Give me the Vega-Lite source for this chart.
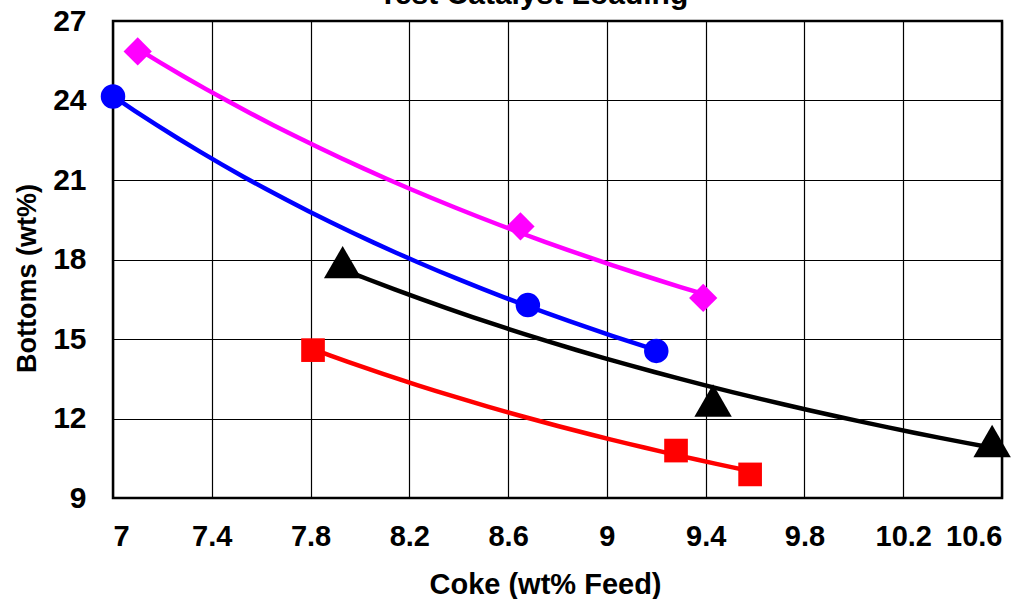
{
  "$schema": "https://vega.github.io/schema/vega-lite/v6.json",
  "width": 889,
  "height": 477,
  "autosize": {"type": "none"},
  "padding": {"left": 113, "top": 21, "right": 31, "bottom": 101},
  "background": "white",
  "title": {
    "text": "Test Catalyst Loading",
    "frame": "group",
    "anchor": "middle",
    "baseline": "alphabetic",
    "offset": -28,
    "dx": -24,
    "font": "Liberation Sans",
    "fontSize": 30,
    "fontWeight": "bold",
    "color": "#000000"
  },
  "config": {
    "view": {"stroke": "#000000", "strokeWidth": 2.5},
    "axis": {
      "labelFont": "Liberation Sans",
      "titleFont": "Liberation Sans",
      "labelFontWeight": "bold",
      "titleFontWeight": "bold",
      "labelColor": "#000000",
      "titleColor": "#000000",
      "domain": false,
      "ticks": false,
      "grid": true,
      "gridColor": "#000000",
      "gridWidth": 1.2,
      "gridOpacity": 1
    }
  },
  "data": {
    "values": [
      {"series": "A", "coke": 7.10, "bottoms": 25.85},
      {"series": "A", "coke": 8.65, "bottoms": 19.25},
      {"series": "A", "coke": 9.39, "bottoms": 16.55},
      {"series": "B", "coke": 7.00, "bottoms": 24.15},
      {"series": "B", "coke": 8.68, "bottoms": 16.28},
      {"series": "B", "coke": 9.20, "bottoms": 14.55},
      {"series": "C", "coke": 7.93, "bottoms": 17.9},
      {"series": "C", "coke": 9.43, "bottoms": 12.68},
      {"series": "C", "coke": 10.56, "bottoms": 11.15},
      {"series": "D", "coke": 7.81, "bottoms": 14.58},
      {"series": "D", "coke": 9.28, "bottoms": 10.79},
      {"series": "D", "coke": 9.58, "bottoms": 9.89}
    ]
  },
  "layer": [
    {
      "transform": [
        {"regression": "bottoms", "on": "coke", "groupby": ["series"], "method": "pow"}
      ],
      "mark": {"type": "line", "strokeWidth": 4.5, "clip": false},
      "encoding": {
        "x": {"field": "coke", "type": "quantitative"},
        "y": {"field": "bottoms", "type": "quantitative"},
        "color": {"field": "series", "type": "nominal", "legend": null,
          "scale": {"domain": ["A", "B", "C", "D"], "range": ["#FF00FF", "#0000FF", "#000000", "#FF0000"]}}
      }
    },
    {
      "mark": {"type": "point", "filled": true, "opacity": 1, "clip": false},
      "encoding": {
        "x": {
          "field": "coke", "type": "quantitative",
          "scale": {"domain": [7, 10.6], "nice": false, "zero": false},
          "axis": {
            "values": [7, 7.4, 7.8, 8.2, 8.6, 9, 9.4, 9.8, 10.2, 10.6],
            "format": "~g",
            "labelFontSize": 29,
            "labelPadding": 24,
            "title": "Coke (wt% Feed)",
            "titleFontSize": 29,
            "titleBaseline": "alphabetic",
            "titleX": 432,
            "titleY": 95
          }
        },
        "y": {
          "field": "bottoms", "type": "quantitative",
          "scale": {"domain": [9, 27], "nice": false, "zero": false},
          "axis": {
            "values": [9, 12, 15, 18, 21, 24, 27],
            "labelFontSize": 30,
            "labelPadding": 27,
            "title": "Bottoms (wt%)",
            "titleFontSize": 27,
            "titleBaseline": "alphabetic",
            "titleAngle": -90,
            "titleX": -78,
            "titleY": 257
          }
        },
        "color": {"field": "series", "type": "nominal", "legend": null,
          "scale": {"domain": ["A", "B", "C", "D"], "range": ["#FF00FF", "#0000FF", "#000000", "#FF0000"]}},
        "shape": {"field": "series", "type": "nominal", "legend": null,
          "scale": {"domain": ["A", "B", "C", "D"], "range": ["diamond", "circle", "triangle-up", "square"]}},
        "size": {"field": "series", "type": "nominal", "legend": null,
          "scale": {"type": "ordinal", "domain": ["A", "B", "C", "D"], "range": [800, 600, 1400, 560]}}
      }
    }
  ]
}
